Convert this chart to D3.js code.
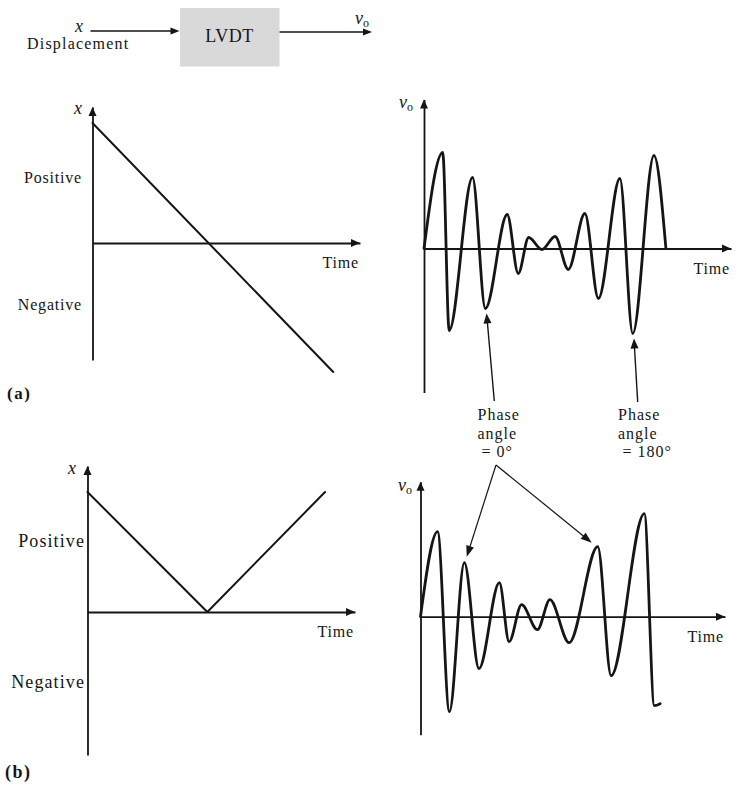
<!DOCTYPE html>
<html><head><meta charset="utf-8">
<script src="https://cdn.jsdelivr.net/npm/d3@7"></script>
<style>
body{margin:0;background:#fff}
svg{display:block}
text{font-family:"Liberation Serif","Times New Roman",serif;fill:#151515}
</style>
</head><body><svg id="c" width="741" height="800"></svg>
<script>
// ---------- data (time in arbitrary units 0..10, signal in relative units) ----------
const dispATime  = [0, 9.0];
const dispAValue = [1.2, -1.29];
const dispBTime  = [0, 4.48, 8.88];
const dispBValue = [1.2, 0, 1.2];

const voutATime  = [0, 0.61, 0.82, 1.58, 2.00, 2.71, 3.07, 3.41, 3.84, 4.27, 4.70, 5.24, 5.68, 6.38, 6.80, 7.49, 7.88];
const voutAValue = [0, 0.96, -0.82, 0.71, -0.60, 0.34, -0.25, 0.11, -0.01, 0.12, -0.21, 0.35, -0.50, 0.70, -0.85, 0.93, 0];

const voutBTime  = [0, 0.56, 0.95, 1.44, 1.92, 2.59, 2.91, 3.32, 3.84, 4.25, 4.88, 5.82, 6.26, 7.35, 7.68, 7.87];
const voutBValue = [0, 0.85, -0.95, 0.54, -0.52, 0.34, -0.25, 0.12, -0.13, 0.17, -0.26, 0.70, -0.59, 1.03, -0.89, -0.87];

const signLabels    = ["Positive", "Negative"];
const signValuesA   = [0.65, -0.62];
const signValuesB   = [0.70, -0.71];
const timeLabel     = "Time";
const panelLabels   = ["(a)", "(b)"];
const blockLabels   = ["x", "Displacement", "LVDT"];
const phaseLabels   = [["Phase", "angle", "= 0°"], ["Phase", "angle", "= 180°"]];
// annotated extrema: index into voutA (phase 0 trough, phase 180 trough) and voutB (peaks)
const annotA = [4, 14];
const annotB = [3, 11];

// ---------- layout ----------
const svg = d3.select("#c");
const INK = "#151515";

function panel(cfg) {
  const sx = d3.scaleLinear().domain([0, 10]).range([cfg.ox, cfg.tEnd]);
  const sy = d3.scaleLinear().domain([-1, 1]).range([cfg.oy + 100, cfg.oy - 100]);
  return {sx, sy, ...cfg};
}
const pAL = panel({ox: 92.5, oy: 243,   tEnd: 360, vTop: 1.36, vBot: -1.17});
const pAR = panel({ox: 424,  oy: 248.5, tEnd: 731, vTop: 1.49, vBot: -1.44});
const pBL = panel({ox: 87.5, oy: 612,   tEnd: 355, vTop: 1.46, vBot: -1.43});
const pBR = panel({ox: 420.5,oy: 616.7, tEnd: 725, vTop: 1.35, vBot: -1.18});

function head(g, x, y, ang, L, W) {
  L = L || 9; W = W || 7;
  const bx = x - L * Math.cos(ang), by = y - L * Math.sin(ang);
  const px = -Math.sin(ang) * W / 2, py = Math.cos(ang) * W / 2;
  g.append("path").attr("d", `M${x},${y}L${bx + px},${by + py}L${bx - px},${by - py}Z`).attr("fill", INK);
}

function drawAxes(p) {
  const g = svg.append("g");
  const xa = d3.axisBottom(p.sx).tickValues([]).tickSizeOuter(0);
  g.append("g").attr("transform", `translate(0,${p.sy(0)})`).call(xa)
    .call(s => s.select(".domain").attr("stroke", INK).attr("stroke-width", 1.8));
  const yScale = d3.scaleLinear().domain([p.vBot, p.vTop]).range([p.sy(p.vBot), p.sy(p.vTop)]);
  const ya = d3.axisLeft(yScale).tickValues([]).tickSizeOuter(0);
  g.append("g").attr("transform", `translate(${p.sx(0)},0)`).call(ya)
    .call(s => s.select(".domain").attr("stroke", INK).attr("stroke-width", 1.8));
  head(g, p.sx(10), p.sy(0), 0, 9, 8);
  head(g, p.sx(0), p.sy(p.vTop), -Math.PI / 2, 9, 8);
  g.append("text").attr("x", p.sx(10) - 1).attr("y", p.sy(0) + 25)
    .attr("text-anchor", "end").attr("font-size", 16).attr("letter-spacing", 0.8).text(timeLabel);
  return g;
}

function drawLine(p, ts, vs, width, curve) {
  const pts = ts.map((t, i) => [t, vs[i]]);
  const line = d3.line().x(d => p.sx(d[0])).y(d => p.sy(d[1])).curve(curve || d3.curveLinear);
  svg.append("path").attr("d", line(pts)).attr("fill", "none").attr("stroke", INK)
    .attr("stroke-width", width).attr("stroke-linejoin", "round").attr("stroke-linecap", "round");
}

function xLabel(x, y) {
  svg.append("text").attr("x", x).attr("y", y).attr("font-size", 18).attr("font-style", "italic")
    .attr("text-anchor", "middle").text(blockLabels[0]);
}
function voLabel(x, y) {
  const t = svg.append("text").attr("x", x).attr("y", y).attr("font-size", 18);
  t.append("tspan").attr("font-style", "italic").text("v");
  t.append("tspan").attr("font-size", 12).attr("dy", 3).text("o");
}

// ---------- block diagram ----------
svg.append("rect").attr("x", 180).attr("y", 8).attr("width", 99.5).attr("height", 58.5).attr("fill", "#d9d9d9");
svg.append("text").attr("x", 229.5).attr("y", 42).attr("text-anchor", "middle").attr("font-size", 18)
  .attr("letter-spacing", 0.5).text(blockLabels[2]);
svg.append("line").attr("x1", 90.5).attr("x2", 172).attr("y1", 31).attr("y2", 31).attr("stroke", INK).attr("stroke-width", 1.5);
head(svg, 179.5, 31, 0, 9, 7);
svg.append("line").attr("x1", 279.5).attr("x2", 364).attr("y1", 32).attr("y2", 32).attr("stroke", INK).attr("stroke-width", 1.5);
head(svg, 372, 32, 0, 9, 7);
xLabel(79, 32);
svg.append("text").attr("x", 27).attr("y", 49).attr("font-size", 16).attr("letter-spacing", 1.2).text(blockLabels[1]);
voLabel(355, 24);

// ---------- panel (a) ----------
drawAxes(pAL);
drawLine(pAL, dispATime, dispAValue, 2);
xLabel(78, 114);
signLabels.forEach((s, i) => {
  svg.append("text").attr("x", pAL.ox - 10.5).attr("y", pAL.sy(signValuesA[i]) + 5)
    .attr("text-anchor", "end").attr("font-size", 16).attr("letter-spacing", 0.8).text(s);
});

drawAxes(pAR);
drawLine(pAR, voutATime, voutAValue, 2.8, d3.curveMonotoneX);
voLabel(399, 108);

// ---------- panel (b) ----------
drawAxes(pBL);
drawLine(pBL, dispBTime, dispBValue, 2);
xLabel(72, 474);
signLabels.forEach((s, i) => {
  svg.append("text").attr("x", pBL.ox - 2.5).attr("y", pBL.sy(signValuesB[i]) + 5)
    .attr("text-anchor", "end").attr("font-size", 18).attr("letter-spacing", 1.1).text(s);
});

drawAxes(pBR);
drawLine(pBR, voutBTime, voutBValue, 2.8, d3.curveMonotoneX);
voLabel(398, 491);

// ---------- panel labels ----------
svg.append("text").attr("x", 7).attr("y", 399).attr("font-size", 17).attr("font-weight", "bold")
  .attr("letter-spacing", 1.5).text(panelLabels[0]);
svg.append("text").attr("x", 5).attr("y", 778).attr("font-size", 18).attr("font-weight", "bold")
  .attr("letter-spacing", 1.5).text(panelLabels[1]);

// ---------- phase annotations ----------
const labelPos = [{x: 477.5, indent: 4}, {x: 618, indent: 4.5}];
phaseLabels.forEach((lines, k) => {
  lines.forEach((s, j) => {
    svg.append("text").attr("x", labelPos[k].x + (j === 2 ? labelPos[k].indent : 0)).attr("y", 420 + j * 18.5)
      .attr("font-size", 16).attr("letter-spacing", 1).text(s);
  });
});

// arrows from labels up to the troughs in (a)
const startsA = [[494.3, 401], [637.7, 402]];
annotA.forEach((idx, k) => {
  const tx = pAR.sx(voutATime[idx]) + 1.2, ty = pAR.sy(voutAValue[idx]) + 5;
  const [sx0, sy0] = startsA[k];
  const ang = Math.atan2(ty - sy0, tx - sx0);
  svg.append("line").attr("x1", sx0).attr("y1", sy0).attr("x2", tx - 6 * Math.cos(ang)).attr("y2", ty - 6 * Math.sin(ang))
    .attr("stroke", INK).attr("stroke-width", 1.4);
  head(svg, tx, ty, ang, 10, 8);
});

// arrows from label down to the peaks in (b)
const apex = [496, 465];
const offsB = [[2.4, -6], [-6, -4]];
annotB.forEach((idx, k) => {
  const tx = pBR.sx(voutBTime[idx]) + offsB[k][0], ty = pBR.sy(voutBValue[idx]) + offsB[k][1];
  const ang = Math.atan2(ty - apex[1], tx - apex[0]);
  svg.append("line").attr("x1", apex[0]).attr("y1", apex[1]).attr("x2", tx - 6 * Math.cos(ang)).attr("y2", ty - 6 * Math.sin(ang))
    .attr("stroke", INK).attr("stroke-width", 1.2);
  head(svg, tx, ty, ang, 11, 8);
});
</script>
</body></html>
